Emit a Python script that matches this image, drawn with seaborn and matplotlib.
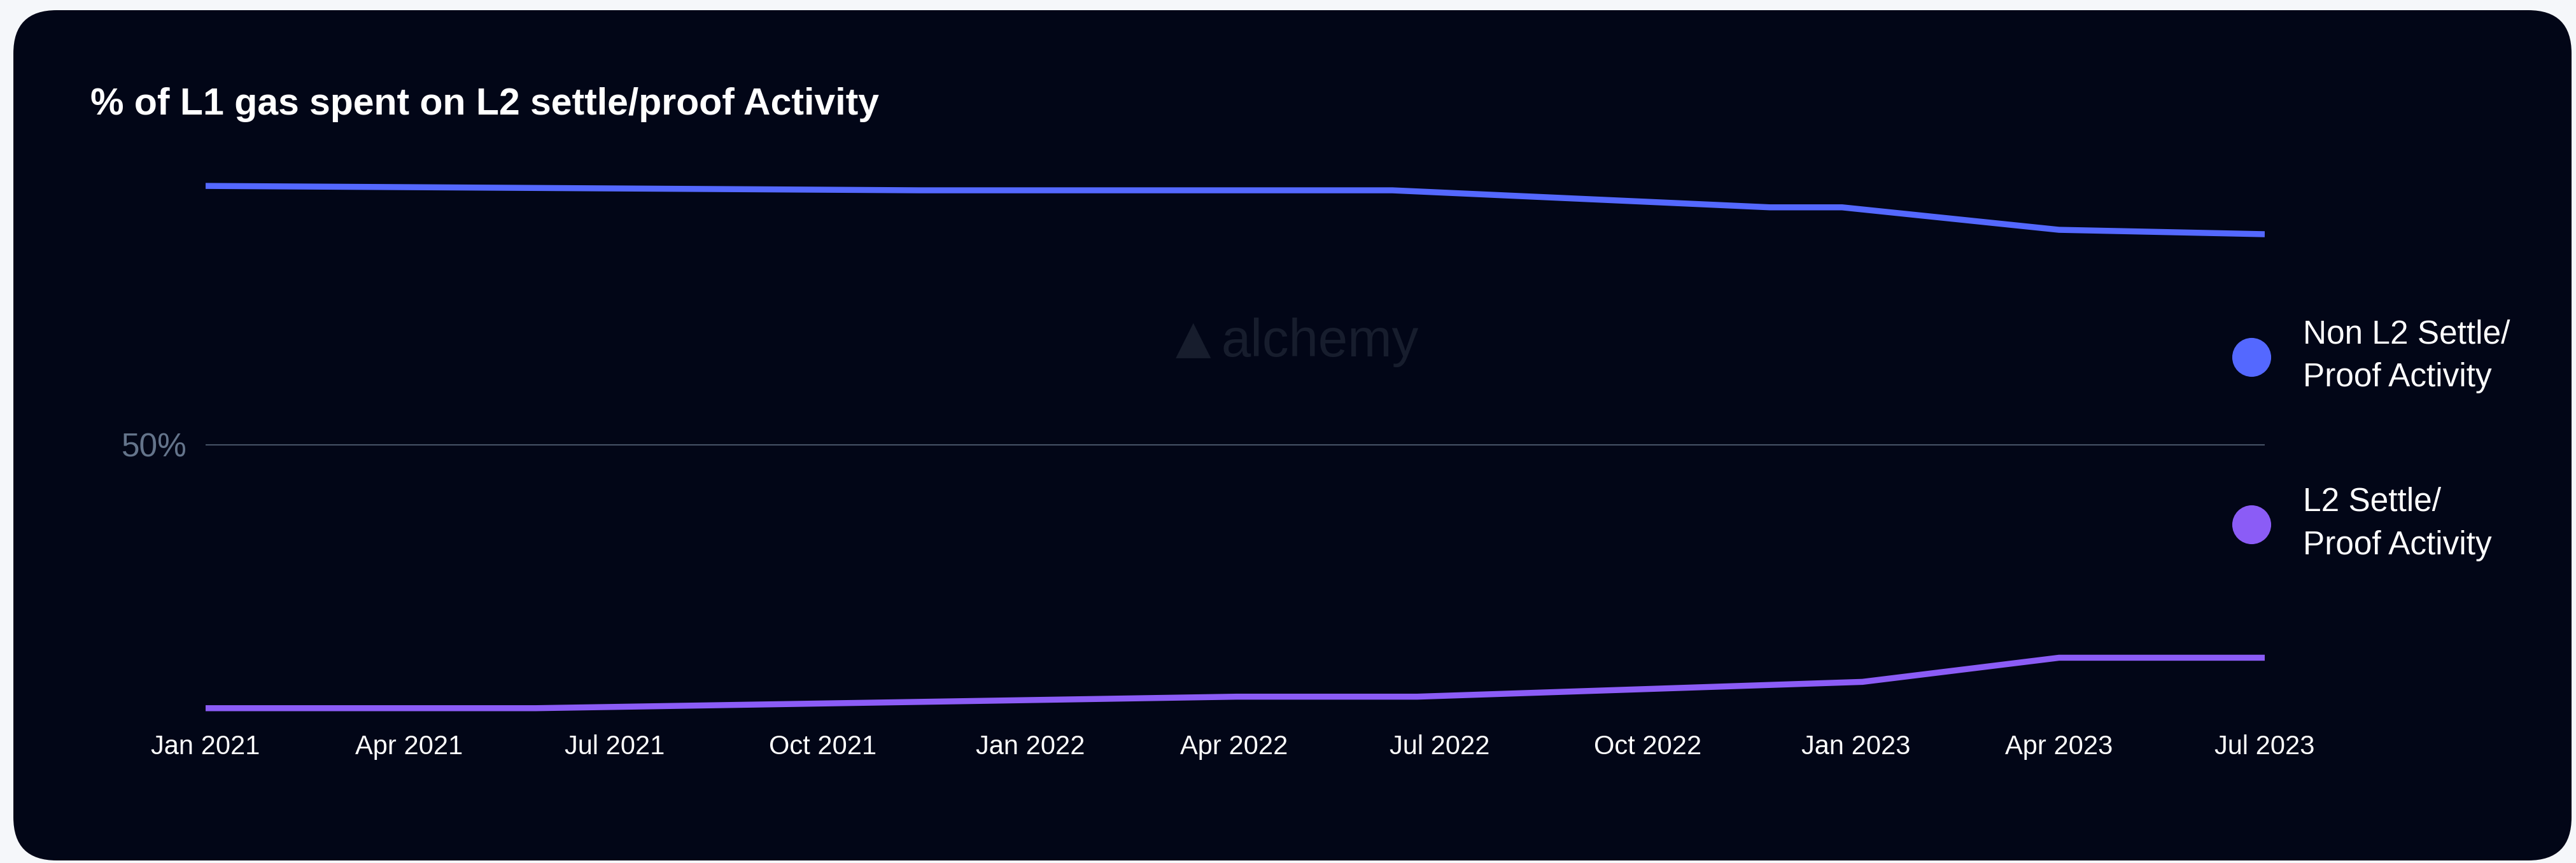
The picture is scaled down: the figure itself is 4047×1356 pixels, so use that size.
import matplotlib
matplotlib.use("Agg")
import matplotlib.pyplot as plt
import matplotlib.dates as mdates
from matplotlib.patches import FancyBboxPatch
from matplotlib.lines import Line2D
import pandas as pd
import seaborn as sns

# ---------------- data ----------------
series_names = ["Non L2 Settle/\nProof Activity", "L2 Settle/\nProof Activity"]

non_l2_dates = ["2021-01-01", "2021-11-13", "2022-06-10", "2022-11-24",
                "2022-12-26", "2023-04-01", "2023-07-01"]
non_l2_values = [97.2, 96.4, 96.4, 93.3, 93.3, 89.2, 88.4]

l2_dates = ["2021-01-01", "2021-05-27", "2022-04-02", "2022-06-21",
            "2023-01-04", "2023-04-01", "2023-07-01"]
l2_values = [2.0, 2.0, 4.1, 4.1, 6.8, 11.2, 11.2]

y_ticks = [50]
y_tick_labels = ["50%"]

title = "% of L1 gas spent on L2 settle/proof Activity"
colors = {series_names[0]: "#5468ff", series_names[1]: "#8b5cf6"}

df = pd.concat([
    pd.DataFrame({"date": pd.to_datetime(non_l2_dates), "value": non_l2_values,
                  "series": series_names[0]}),
    pd.DataFrame({"date": pd.to_datetime(l2_dates), "value": l2_values,
                  "series": series_names[1]}),
], ignore_index=True)

# ---------------- figure ----------------
sns.set_style("white")
plt.rcParams["font.family"] = ["Liberation Sans", "DejaVu Sans"]

W, H = 4047, 1356
DPI = 100
fig = plt.figure(figsize=(W / DPI, H / DPI), dpi=DPI)
fig.patch.set_facecolor("#f5f7fa")

# background panel (pixel-space axes)
bg = fig.add_axes([0, 0, 1, 1], zorder=0)
bg.set_xlim(0, W)
bg.set_ylim(H, 0)
bg.axis("off")
panel = FancyBboxPatch((21, 16), 4040 - 21, 1352 - 16,
                       boxstyle="round,pad=0,rounding_size=68",
                       facecolor="#020617", edgecolor="none")
bg.add_patch(panel)
# watermark
bg.text(1875, 535, "\u25B2", color="#171d2d", fontsize=52, ha="center",
        va="center", family=["DejaVu Sans"])
bg.text(1918, 538, "alchemy", color="#171d2d", fontsize=60, ha="left",
        va="center")
# title
bg.text(142, 180, title, color="white", fontsize=42.5, fontweight="bold",
        ha="left", va="baseline")

# main axes
left, right = 323, 3558
top, bottom = 268, 1130
ax = fig.add_axes([left / W, (H - bottom) / H, (right - left) / W,
                   (bottom - top) / H], zorder=1)
ax.set_facecolor("none")

sns.lineplot(data=df, x="date", y="value", hue="series", palette=colors,
             linewidth=6.8, ax=ax, legend=False, sort=True)
for ln in ax.get_lines():
    ln.set_solid_joinstyle("miter")
    ln.set_solid_capstyle("butt")

ax.set_xlim(pd.Timestamp("2021-01-01"), pd.Timestamp("2023-07-01"))
ax.set_ylim(0, 100)
ax.xaxis.set_major_locator(mdates.MonthLocator(bymonth=[1, 4, 7, 10]))
ax.xaxis.set_major_formatter(mdates.DateFormatter("%b %Y"))
ax.set_yticks(y_ticks)
ax.set_yticklabels(y_tick_labels)
ax.tick_params(axis="x", length=0, pad=17, labelsize=30, colors="white")
ax.tick_params(axis="y", length=0, pad=21, labelsize=37, colors="#64748b")
ax.grid(axis="y", color="#465266", linewidth=1.5)
ax.grid(axis="x", visible=False)
ax.set_axisbelow(True)
for s in ax.spines.values():
    s.set_visible(False)
ax.set_xlabel("")
ax.set_ylabel("")

# legend
handles = [Line2D([0], [0], marker="o", linestyle="none", markersize=44,
                  markerfacecolor=colors[n], markeredgewidth=0)
           for n in series_names]
leg = ax.legend(handles=handles, labels=series_names, loc="center left",
                bbox_to_anchor=(3506 / W, 1 - 691.5 / H),
                bbox_transform=fig.transFigure, frameon=False, fontsize=37,
                handlelength=1.2, handletextpad=0.98, labelspacing=2.85,
                borderpad=0, borderaxespad=0)
for t in leg.get_texts():
    t.set_color("white")
    t.set_linespacing(1.5)

fig.savefig("out.png", dpi=DPI, facecolor=fig.get_facecolor())
